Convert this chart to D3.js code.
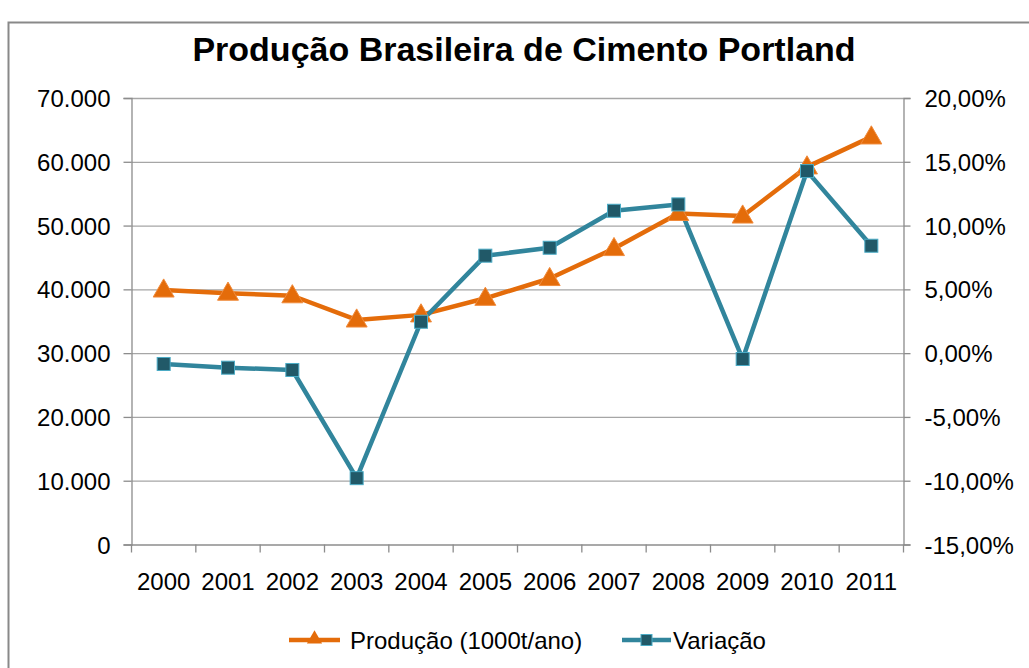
<!DOCTYPE html>
<html>
<head>
<meta charset="utf-8">
<script src="https://cdn.jsdelivr.net/npm/d3@7"></script>
<style>
  body { margin: 0; background: #fff; }
  text { font-family: "Liberation Sans", Arial, sans-serif; fill: #000; }
</style>
</head>
<body>
<div id="chart"></div>
<script>
// data
var years = ["2000","2001","2002","2003","2004","2005","2006","2007","2008","2009","2010","2011"]
var producao = [39900, 39400, 39000, 35200, 36000, 38600, 41700, 46400, 51900, 51500, 59200, 63900]
var variacao = [-0.0085, -0.0114, -0.0132, -0.098, 0.0246, 0.0764, 0.0826, 0.1116, 0.1166, -0.0046, 0.1427, 0.0842]
var leftTicks = [0, 10000, 20000, 30000, 40000, 50000, 60000, 70000]
var rightTicks = [-0.15, -0.10, -0.05, 0, 0.05, 0.10, 0.15, 0.20]

var W = 1029, H = 668
var plot = {left: 131.5, right: 903.5, top: 98, bottom: 544.5}

var ptBR = d3.formatLocale({decimal: ",", thousands: ".", grouping: [3], currency: ["R$", ""], minus: "-"})
var fmtLeft = ptBR.format(",.0f")
var fmtRight = ptBR.format(".2%")

var svg = d3.select("#chart").append("svg")
  .attr("width", W)
  .attr("height", H)

// outer chart border
svg.append("rect")
  .attr("x", 8.5).attr("y", 22.5)
  .attr("width", 1040).attr("height", 700)
  .attr("fill", "#fff")
  .attr("stroke", "#898989")
  .attr("stroke-width", 2)

svg.append("text")
  .attr("x", 524).attr("y", 61)
  .attr("text-anchor", "middle")
  .style("font-size", "34px")
  .style("font-weight", "bold")
  .text("Produção Brasileira de Cimento Portland")

var x = d3.scaleBand().domain(years).range([plot.left, plot.right])
var yL = d3.scaleLinear().domain([0, 70000]).range([plot.bottom, plot.top])
var yR = d3.scaleLinear().domain([-0.15, 0.20]).range([plot.bottom, plot.top])

// gridlines
svg.append("g").selectAll("line")
  .data(leftTicks.slice(1))
  .join("line")
  .attr("x1", plot.left).attr("x2", plot.right)
  .attr("y1", d => yL(d) + 0.5).attr("y2", d => yL(d) + 0.5)
  .attr("stroke", "#a6a6a6")
  .attr("stroke-width", 1.3)

// left axis
var gL = svg.append("g")
  .attr("transform", "translate(" + plot.left + ",0)")
  .call(d3.axisLeft(yL).tickValues(leftTicks).tickFormat(fmtLeft).tickSize(8).tickPadding(13))
// right axis
var gR = svg.append("g")
  .attr("transform", "translate(" + plot.right + ",0)")
  .call(d3.axisRight(yR).tickValues(rightTicks).tickFormat(fmtRight).tickSize(7).tickPadding(14))
// bottom axis, ticks between categories
var gB = svg.append("g")
  .attr("transform", "translate(0," + plot.bottom + ")")
  .call(d3.axisBottom(x).tickSize(0).tickPadding(28))
gB.selectAll(".tickB")
  .data(d3.range(years.length + 1))
  .join("line")
  .attr("class", "tickB")
  .attr("x1", i => plot.left + i * x.step()).attr("x2", i => plot.left + i * x.step())
  .attr("y1", 0).attr("y2", 8)

;[gL, gR, gB].forEach(function(g){
  g.select(".domain").attr("stroke", "#8c8c8c").attr("stroke-width", 1.3)
  g.selectAll("line").attr("stroke", "#8c8c8c").attr("stroke-width", 1.3)
  g.selectAll("text")
    .style("font-family", "'Liberation Sans', Arial, sans-serif")
    .style("font-size", "24px")
    .attr("fill", "#000")
})
gL.selectAll("text").attr("dy", "0.36em")
gR.selectAll("text").attr("dy", "0.36em")

var cx = d => x(d) + x.bandwidth() / 2

var orange = "#e46c0a", teal = "#31859c", tealDark = "#215968"

// Produção line
svg.append("path")
  .datum(years)
  .attr("fill", "none")
  .attr("stroke", orange)
  .attr("stroke-width", 4.5)
  .attr("stroke-linejoin", "round")
  .attr("d", d3.line().x(cx).y((d, i) => yL(producao[i])))

// Variação line
svg.append("path")
  .datum(years)
  .attr("fill", "none")
  .attr("stroke", teal)
  .attr("stroke-width", 4.5)
  .attr("stroke-linejoin", "round")
  .attr("d", d3.line().x(cx).y((d, i) => yR(variacao[i])))

var tri = d3.symbol().type(d3.symbolTriangle).size(190)

svg.append("g").selectAll("path")
  .data(years)
  .join("path")
  .attr("d", tri)
  .attr("transform", (d, i) => "translate(" + cx(d) + "," + (yL(producao[i]) + 1) + ")")
  .attr("fill", orange)
  .attr("stroke", "#f08a3a")
  .attr("stroke-width", 1)

svg.append("g").selectAll("rect")
  .data(years)
  .join("rect")
  .attr("x", d => cx(d) - 6.5)
  .attr("y", (d, i) => yR(variacao[i]) - 6.5)
  .attr("width", 13).attr("height", 13)
  .attr("fill", tealDark)
  .attr("stroke", "#4bacc6")
  .attr("stroke-width", 1)

// legend
var legY = 640
var leg = svg.append("g")
leg.append("line").attr("x1", 289).attr("x2", 340).attr("y1", legY).attr("y2", legY)
  .attr("stroke", orange).attr("stroke-width", 4.5)
leg.append("path").attr("d", d3.symbol().type(d3.symbolTriangle).size(100))
  .attr("transform", "translate(314.5," + (legY - 1) + ")")
  .attr("fill", orange)
leg.append("text").attr("x", 350).attr("y", legY + 8.5)
  .style("font-size", "24px").text("Produção (1000t/ano)")
leg.append("line").attr("x1", 622).attr("x2", 671).attr("y1", legY).attr("y2", legY)
  .attr("stroke", teal).attr("stroke-width", 4.5)
leg.append("rect").attr("x", 641).attr("y", legY - 5.5).attr("width", 11).attr("height", 11)
  .attr("fill", tealDark).attr("stroke", "#4bacc6").attr("stroke-width", 1)
leg.append("text").attr("x", 673).attr("y", legY + 8.5)
  .style("font-size", "24px").text("Variação")
</script>
</body>
</html>
